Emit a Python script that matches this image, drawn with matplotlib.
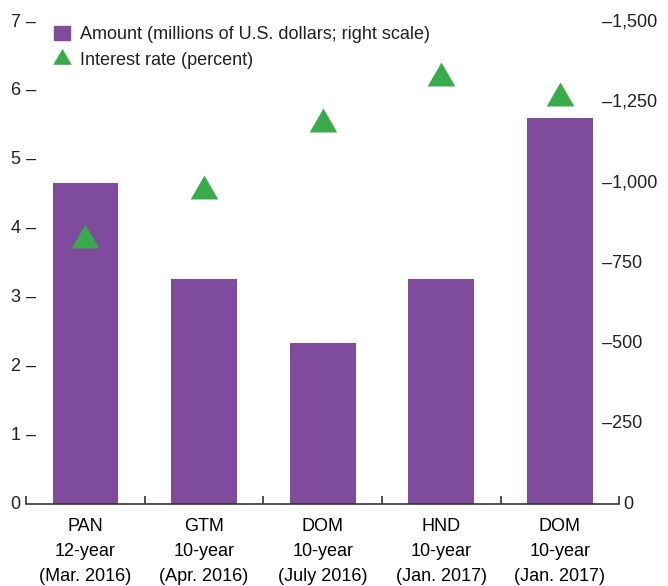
import numpy as np
import matplotlib.pyplot as plt
from matplotlib.patches import Patch
from matplotlib.lines import Line2D
# Imports

plt.rcParams['font.family'] = ['Liberation Sans', 'DejaVu Sans']
plt.rcParams['text.color'] = '#231f20'

categories = ['PAN\n12-year\n(Mar. 2016)', 'GTM\n10-year\n(Apr. 2016)',
              'DOM\n10-year\n(July 2016)', 'HND\n10-year\n(Jan. 2017)',
              'DOM\n10-year\n(Jan. 2017)']
amount = [1000, 700, 500, 700, 1200]
# Amount, millions of U.S. dollars (right scale)
rate = [3.84, 4.55, 5.52, 6.19, 5.89]
# Interest rate, percent (left scale)
rate_ticks = [0, 1, 2, 3, 4, 5, 6, 7]
amount_ticks = [0, 250, 500, 750, 1000, 1250, 1500]

purple = '#7f4b9c'
green = '#3aab4a'
fs = 13

fig = plt.figure(figsize=(6.68, 5.86), dpi=100)
ax = fig.add_axes([0.0392, 0.1399, 0.8877, 0.8225])
ax2 = ax.twinx()
# ax: rate (left), ax2: amount (right); rate drawn on top
ax.set_zorder(ax2.get_zorder() + 1)
ax.patch.set_visible(False)

x = np.arange(len(categories))
ax2.bar(x, amount, width=0.556, color=purple)
ax.plot(x, rate, linestyle='none', marker=(3, 0, 0), markersize=23,
        color=green, markeredgewidth=0)

ax.set_xlim(-0.5, len(categories) - 0.5)
ax.set_ylim(0, 7)
ax2.set_ylim(0, 1500)

for a in (ax, ax2):
    for s in ('left', 'right', 'top'):
        a.spines[s].set_visible(False)
    a.set_yticks([])
ax2.spines['bottom'].set_visible(False)
ax.spines['bottom'].set_color('#333333')
ax.spines['bottom'].set_linewidth(1.2)

# Category labels and boundary ticks
ax.set_xticks(x)
ax.set_xticklabels(categories, fontsize=fs, linespacing=1.62)
ax.tick_params(axis='x', which='major', length=0, pad=10)
ax.set_xticks(np.arange(len(categories) + 1) - 0.5, minor=True)
ax.tick_params(axis='x', which='minor', direction='in', length=6,
               width=1.2, color='#333333')

# Y tick labels with dash marks
ytr = ax.get_yaxis_transform()
for v in rate_ticks:
    if v == 0:
        ax.text(-0.009, v, '0', transform=ytr, ha='right', va='center',
                fontsize=fs)
    else:
        ax.text(0.0165, v, '%d \u2013' % v, transform=ytr, ha='right',
                va='center', fontsize=fs)
ytr2 = ax2.get_yaxis_transform()
for v in amount_ticks:
    if v == 0:
        ax2.text(1.007, v, '0', transform=ytr2, ha='left', va='center',
                 fontsize=fs)
    else:
        ax2.text(0.971, v, '\u2013{:,}'.format(v), transform=ytr2,
                 ha='left', va='center', fontsize=fs)

handles = [Patch(color=purple),
           Line2D([], [], linestyle='none', marker=(3, 0, 0), markersize=15.3,
                  color=green, markeredgewidth=0)]
labels = ['Amount (millions of U.S. dollars; right scale)',
          'Interest rate (percent)']
ax.legend(handles, labels, loc='upper left', bbox_to_anchor=(54 / 668, 1 - 26 / 586),
          bbox_transform=fig.transFigure, frameon=False, fontsize=fs,
          borderpad=0, borderaxespad=0, handlelength=0.886, handleheight=0.83,
          handletextpad=0.55, labelspacing=0.47)

fig.savefig('out.png', dpi=100)
